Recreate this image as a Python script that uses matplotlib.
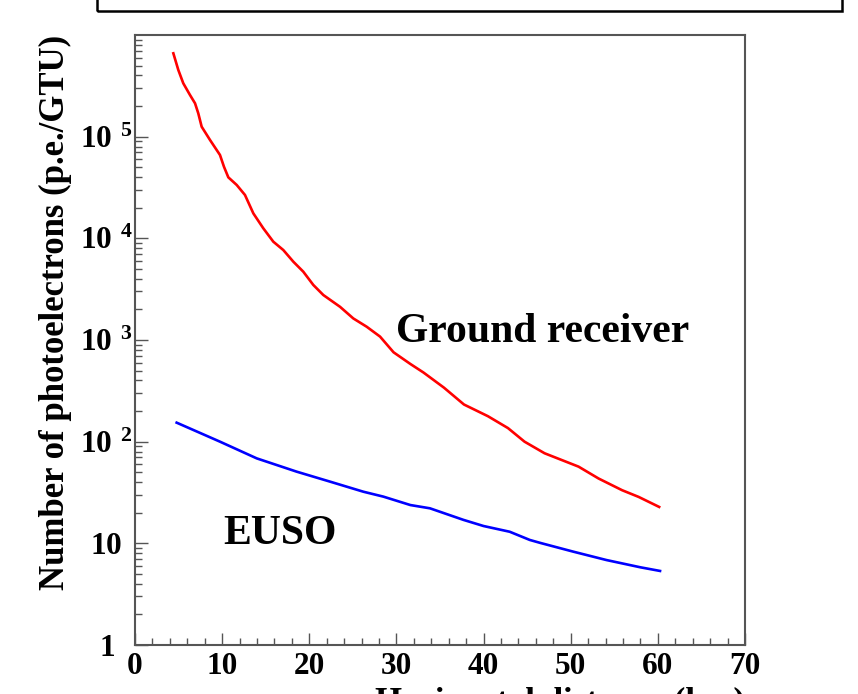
import matplotlib
matplotlib.use("Agg")
import matplotlib.pyplot as plt
from matplotlib.ticker import MultipleLocator, LogLocator, NullFormatter, FixedLocator, FixedFormatter
from matplotlib.patches import Rectangle

# ---- data ----
ground_x = [4.40, 4.97, 5.54, 6.31, 6.89, 7.26, 7.65, 8.61, 9.75, 10.21, 10.71, 11.67, 12.62,
            13.58, 14.72, 15.87, 17.02, 18.17, 19.31, 20.46, 21.61, 23.53, 25.05, 26.59, 28.12,
            29.67, 31.6, 33.1, 35.45, 37.75, 40.5, 42.8, 44.7, 47.0, 50.9, 53.2, 55.9, 57.8,
            60.15]
ground_y = [660700, 452900, 335000, 257000, 212800, 169800, 125300, 92700, 66100, 50600,
            39800, 33500, 26700, 17600, 12560, 9270, 7670, 5890, 4700, 3480, 2770, 2120, 1630,
            1350, 1080, 757, 581, 479, 340, 232, 178, 136, 100, 76.9, 56.8, 43.4, 33.3, 28.6,
            22.8]
euso_x = [4.78, 9.75, 13.97, 18.55, 22.4, 26.2, 28.5, 31.6, 33.85, 37.7, 40.0, 43.0, 45.3,
          46.5, 50.3, 54.1, 58.0, 60.25]
euso_y = [153.8, 100, 68.5, 50.7, 40.4, 32.2, 28.8, 23.8, 22.1, 17.0, 14.8, 13.0, 10.8,
          10.1, 8.28, 6.85, 5.81, 5.35]

ytick_vals = [1, 10, 100, 1e3, 1e4, 1e5]
ytick_labels = [r'$\mathbf{1}$',
                r'$\mathbf{10}$',
                r'$\mathbf{10\ }^{\mathbf{2}}$',
                r'$\mathbf{10\ }^{\mathbf{3}}$',
                r'$\mathbf{10\ }^{\mathbf{4}}$',
                r'$\mathbf{10\ }^{\mathbf{5}}$']

xlabel = "Horizontal distance (km)"
ylabel = "Number of photoelectrons (p.e./GTU)"

plt.rcParams['font.family'] = ['Liberation Serif', 'DejaVu Serif']
plt.rcParams['font.weight'] = 'bold'
plt.rcParams['mathtext.fontset'] = 'custom'
plt.rcParams['mathtext.rm'] = 'Liberation Serif:bold'
plt.rcParams['mathtext.bf'] = 'Liberation Serif:bold'
plt.rcParams['mathtext.it'] = 'Liberation Serif:bold'

fig = plt.figure(figsize=(8.58, 6.94), dpi=100)
ax = fig.add_axes([135/858, 1 - 645/694, 610/858, 610/694])

ax.plot(ground_x, ground_y, color='#ff0000', lw=1.9)
ax.plot(euso_x, euso_y, color='#0000ff', lw=1.9)

ax.set_yscale('log')
ax.set_xlim(0, 70)
ax.set_ylim(1, 1e6)

ax.xaxis.set_major_locator(MultipleLocator(10))
ax.xaxis.set_minor_locator(MultipleLocator(2))
ax.yaxis.set_major_locator(FixedLocator(ytick_vals))
ax.yaxis.set_major_formatter(FixedFormatter(ytick_labels))
ax.yaxis.set_minor_locator(LogLocator(base=10, subs=range(2, 10), numticks=20))
ax.yaxis.set_minor_formatter(NullFormatter())

ax.tick_params(which='both', direction='in', top=False, right=False, color='#555555')
ax.tick_params(which='major', length=9, width=1.0, labelsize=22.5)
ax.tick_params(axis='x', which='major', pad=5)
ax.tick_params(axis='y', which='major', pad=20.5)
ax.tick_params(which='minor', length=5, width=1.0)
for lab in ax.get_xticklabels():
    lab.set_fontweight('bold')
for lab in ax.get_yticklabels():
    lab.set_horizontalalignment('center')

for sp in ax.spines.values():
    sp.set_color('#555555')
    sp.set_linewidth(1.5)

ax.set_ylabel(ylabel, fontsize=25, fontweight='bold', loc='top')
ax.yaxis.set_label_coords(-0.103, 1.0)
ax.set_xlabel(xlabel, fontsize=25, fontweight='bold', loc='right', va='top')
ax.xaxis.set_label_coords(1.0, -0.067)

ax.text(30.0, 955, "Ground receiver", fontsize=30, fontweight='bold', ha='left', va='baseline')
ax.text(10.1, 9.85, "EUSO", fontsize=30, fontweight='bold', ha='left', va='baseline')

# empty title box at the top
fig.patches.append(Rectangle((96.7/858, 1 - 10.7/694), (842 - 96.7)/858, 0.2,
                             transform=fig.transFigure, fill=False, edgecolor='black',
                             lw=1.8, clip_on=False))

fig.savefig("out.png", dpi=100)
